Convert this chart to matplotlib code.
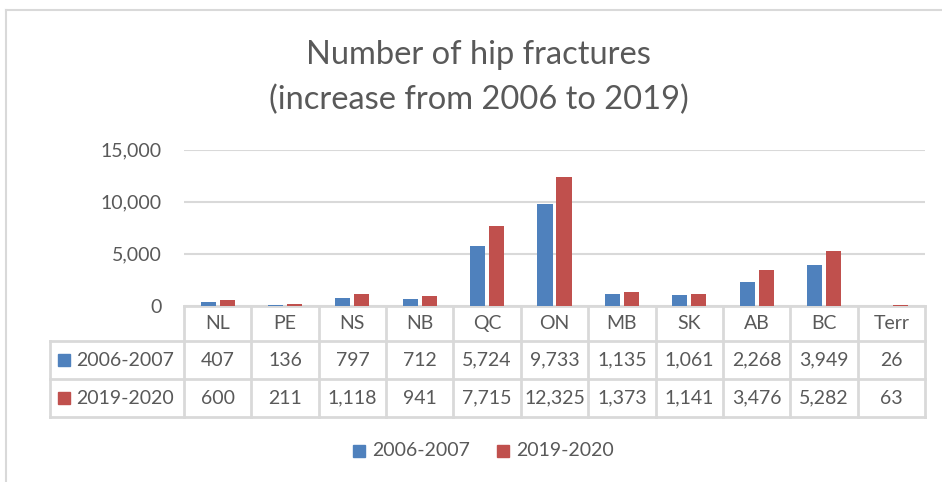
import matplotlib
matplotlib.use("Agg")
import matplotlib.pyplot as plt
import matplotlib.transforms as mtransforms
from matplotlib.patches import Rectangle
import numpy as np

provinces = ["NL", "PE", "NS", "NB", "QC", "ON", "MB", "SK", "AB", "BC", "Terr"]
series_names = ["2006-2007", "2019-2020"]
fractures_2006 = [407, 136, 797, 712, 5724, 9733, 1135, 1061, 2268, 3949, 26]
fractures_2019 = [600, 211, 1118, 941, 7715, 12325, 1373, 1141, 3476, 5282, 63]
y_ticks = [0, 5000, 10000, 15000]

colors = ["#4F81BD", "#C0504D"]
text_col = "#595959"
line_col = "#D9D9D9"
font = "Lato"

plt.rcParams["font.family"] = [font, "DejaVu Sans"]

W, H = 942, 482
fig = plt.figure(figsize=(W / 100, H / 100), dpi=100)

# overlay in pixel coordinates (y down) for frame, title, table and legend
ov = fig.add_axes([0, 0, 1, 1])
ov.set_xlim(0, W)
ov.set_ylim(H, 0)
ov.axis("off")

# plot area
left_px, right_px, top_px, zero_px = 184, 925, 149.5, 306
ax = fig.add_axes([left_px / W, 1 - zero_px / H,
                   (right_px - left_px) / W, (zero_px - top_px) / H])

x = np.arange(len(provinces))
bw = 0.223
off = 0.141
ax.bar(x - off, fractures_2006, bw, color=colors[0], zorder=3)
ax.bar(x + off, fractures_2019, bw, color=colors[1], zorder=3)

ax.set_xlim(-0.5, len(provinces) - 0.5)
ax.set_ylim(0, 15000)
ax.set_yticks(y_ticks)
ax.set_yticklabels([f"{v:,}" for v in y_ticks])
ax.tick_params(axis="y", length=0, pad=16, labelsize=14, labelcolor=text_col)
ax.set_xticks([])
ax.grid(axis="y", color=line_col, linewidth=1.5, zorder=0)
for s in ax.spines.values():
    s.set_visible(False)
ax.patch.set_alpha(0)

# outer chart frame (cut off at right and bottom)
ov.plot([6, 6], [10, H], color=line_col, lw=1.5)
ov.plot([6, W], [10, 10], color=line_col, lw=1.5)

# title
ov.text(478, 55, "Number of hip fractures", ha="center", va="center",
        fontsize=23.5, color=text_col)
ov.text(479, 100, "(increase from 2006 to 2019)", ha="center", va="center",
        fontsize=23.5, color=text_col)

# data table under the axis
tr = mtransforms.blended_transform_factory(ax.transData, ov.transData)
row_top, row_h1, row_h2, row_bot = zero_px, 341, 379, 417
n = len(provinces)
tlw = 2
# horizontal lines
ax.plot([-0.5, n - 0.5], [row_top, row_top], transform=tr, color=line_col,
        lw=tlw, clip_on=False)
for yy in (row_h1, row_h2, row_bot):
    ov.plot([50, right_px], [yy, yy], color=line_col, lw=tlw)
# vertical lines
for i in range(n + 1):
    ax.plot([i - 0.5, i - 0.5], [row_top, row_bot], transform=tr,
            color=line_col, lw=tlw, clip_on=False)
ov.plot([50, 50], [row_h1, row_bot], color=line_col, lw=tlw)

rows = [fractures_2006, fractures_2019]
fs = 14
for i, p in enumerate(provinces):
    ax.text(i, (row_top + row_h1) / 2, p, transform=tr, ha="center",
            va="center", fontsize=fs, color=text_col)
    for r, vals in enumerate(rows):
        yc = (row_h1 + row_h2) / 2 if r == 0 else (row_h2 + row_bot) / 2
        ax.text(i, yc, f"{vals[i]:,}", transform=tr, ha="center",
                va="center", fontsize=fs, color=text_col)

for r, name in enumerate(series_names):
    yc = (row_h1 + row_h2) / 2 if r == 0 else (row_h2 + row_bot) / 2
    ov.add_patch(Rectangle((58, yc - 6), 12, 12, color=colors[r]))
    ov.text(76, yc, name, ha="left", va="center", fontsize=fs, color=text_col)

# legend at bottom
leg_x = [353, 497]
for r, name in enumerate(series_names):
    ov.add_patch(Rectangle((leg_x[r], 445), 12, 12, color=colors[r]))
    ov.text(leg_x[r] + 19, 451, name, ha="left", va="center", fontsize=fs,
            color=text_col)

fig.savefig("out.png", dpi=100)
